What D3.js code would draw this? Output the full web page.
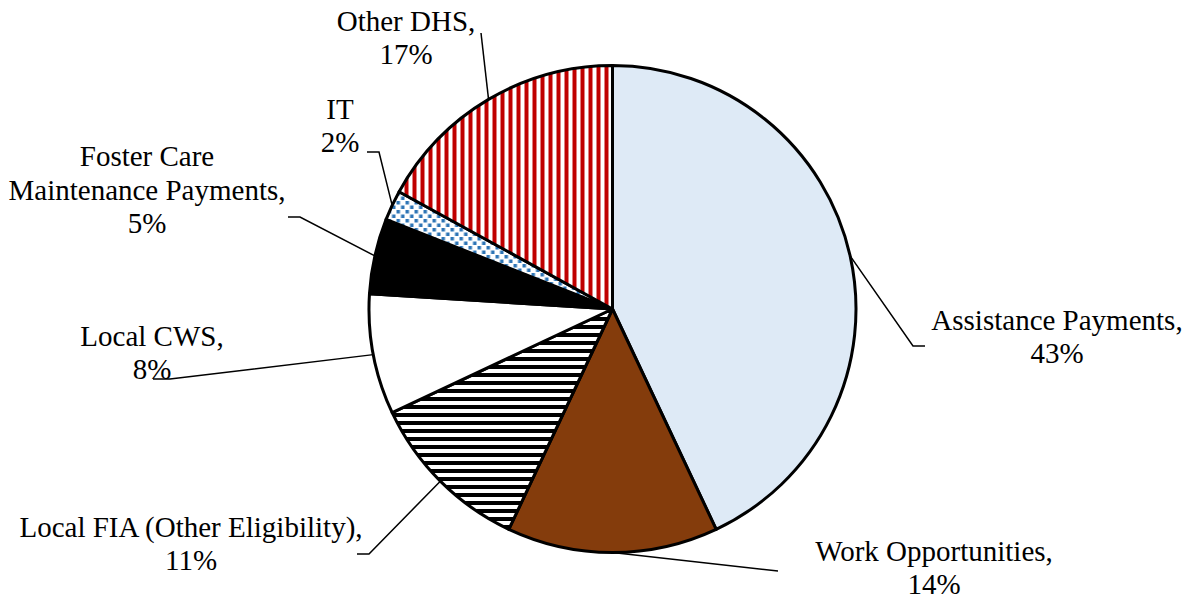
<!DOCTYPE html>
<html>
<head>
<meta charset="utf-8">
<script src="https://cdn.jsdelivr.net/npm/d3@7/dist/d3.min.js"></script>
<style>
  html, body { margin: 0; padding: 0; background: #fff; }
  #wrap { position: relative; width: 1191px; height: 603px; }
  #wrap svg { position: absolute; left: 0; top: 0; display: block; }
  .lbl {
    position: absolute;
    width: 400px;
    text-align: center;
    white-space: nowrap;
    font-family: "Liberation Serif", "Times New Roman", Tinos, "Nimbus Roman", serif;
    font-size: 29px;
    color: #000;
  }
</style>
</head>
<body>
<div id="wrap"><svg id="chart" width="1191" height="603"></svg></div>
<script>
// Budget shares by category (percent), clockwise from 12 o'clock
const categories = [
  "Assistance Payments",
  "Work Opportunities",
  "Local FIA (Other Eligibility)",
  "Local CWS",
  "Foster Care Maintenance Payments",
  "IT",
  "Other DHS"
];
const values = [43, 14, 11, 8, 5, 2, 17];

// Label text lines for each slice
const labelLines = [
  ["Assistance Payments,", "43%"],
  ["Work Opportunities,", "14%"],
  ["Local FIA (Other Eligibility),", "11%"],
  ["Local CWS,", "8%"],
  ["Foster Care", "Maintenance Payments,", "5%"],
  ["IT", "2%"],
  ["Other DHS,", "17%"]
];

const svg = d3.select("#chart");
const cx = 612.5, cy = 309, r = 243.5;

// Fill patterns
const defs = svg.append("defs");
const vStripes = defs.append("pattern").attr("id", "redStripes")
  .attr("patternUnits", "userSpaceOnUse").attr("width", 8).attr("height", 8);
vStripes.append("rect").attr("width", 8).attr("height", 8).attr("fill", "#fff");
vStripes.append("rect").attr("x", 0).attr("width", 4).attr("height", 8).attr("fill", "#C00000");

const hStripes = defs.append("pattern").attr("id", "blackStripes")
  .attr("patternUnits", "userSpaceOnUse").attr("width", 8).attr("height", 8);
hStripes.append("rect").attr("width", 8).attr("height", 8).attr("fill", "#fff");
hStripes.append("rect").attr("y", 0).attr("width", 8).attr("height", 4).attr("fill", "#000");

const dots = defs.append("pattern").attr("id", "blueDots")
  .attr("patternUnits", "userSpaceOnUse").attr("width", 9).attr("height", 9);
dots.append("rect").attr("width", 9).attr("height", 9).attr("fill", "#fff");
dots.append("rect").attr("x", 0).attr("y", 0).attr("width", 3.5).attr("height", 3.5).attr("fill", "#2E75B6");
dots.append("rect").attr("x", 4.5).attr("y", 4.5).attr("width", 3.5).attr("height", 3.5).attr("fill", "#2E75B6");

const fills = [
  "#DEEAF6",
  "#843C0C",
  "url(#blackStripes)",
  "#FFFFFF",
  "#000000",
  "url(#blueDots)",
  "url(#redStripes)"
];

const data = categories.map((c, i) => ({ name: c, value: values[i], fill: fills[i], lines: labelLines[i] }));

const pie = d3.pie().value(d => d.value).sort(null);
const arcs = pie(data);
const arc = d3.arc().innerRadius(0).outerRadius(r);

const g = svg.append("g").attr("transform", `translate(${cx},${cy})`);

// Label anchor points (text centre x, first baseline) and leader-line elbow points
const labelPos = [
  { x: 1057, y: 330, elbow: [913, 346], end: [925, 346] },
  { x: 934, y: 561, elbow: [778, 571], end: [778, 571] },
  { x: 191, y: 537, elbow: [369, 554], end: [357, 554] },
  { x: 152, y: 346, elbow: [170, 379], end: [153, 379] },
  { x: 147, y: 167, elbow: [300, 217], end: [288, 217] },
  { x: 340, y: 119, elbow: [379, 152], end: [367, 152] },
  { x: 406, y: 31, elbow: [481, 33], end: [481, 33] }
];

// Leader lines from slice arc midpoint to label
arcs.forEach((a, i) => {
  const mid = (a.startAngle + a.endAngle) / 2;
  const px = cx + r * Math.sin(mid), py = cy - r * Math.cos(mid);
  const p = labelPos[i];
  svg.append("polyline")
    .attr("points", [[px, py], p.elbow, p.end].map(q => q.join(",")).join(" "))
    .attr("fill", "none").attr("stroke", "#000").attr("stroke-width", 1.5);
});

// Slices
g.selectAll("path.slice").data(arcs).join("path")
  .attr("class", "slice")
  .attr("d", arc)
  .attr("fill", d => d.data.fill)
  .attr("stroke", "#000")
  .attr("stroke-width", 3)
  .attr("stroke-linejoin", "round");

// Labels as positioned HTML blocks; baseline sits ~26.3px below the top of each line box
const wrap = d3.select("#wrap");
const baselineOffset = 26.3;
arcs.forEach((a, i) => {
  const p = labelPos[i];
  const step = a.data.lines.length === 3 ? 33.5 : 33;
  const half = (step - 33) / 2;
  const div = wrap.append("div")
    .attr("class", "lbl")
    .style("left", (p.x - 200) + "px")
    .style("top", (p.y - baselineOffset - half) + "px")
    .style("line-height", step + "px");
  a.data.lines.forEach((ln, j) => {
    if (j > 0) div.append("br");
    div.append("span").text(ln);
  });
});
</script>
</body>
</html>
